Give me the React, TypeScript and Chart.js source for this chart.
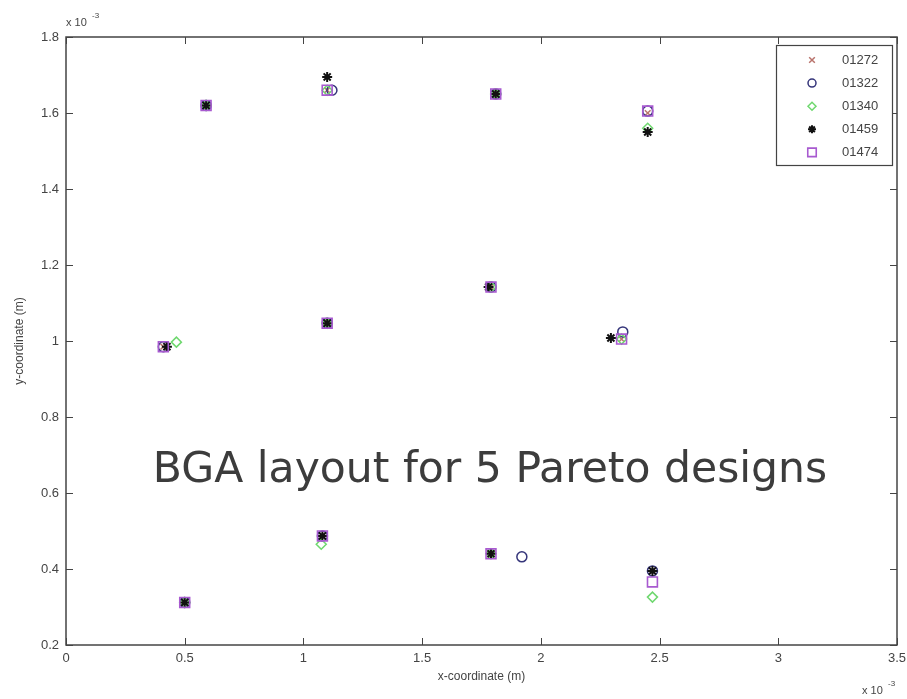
import React, { useEffect, useRef } from 'react';
import { Chart, registerables } from 'chart.js';
import { drawPoint } from 'chart.js/helpers';

Chart.register(...registerables);

// ---- data (coordinates in units of 1e-3 m) ----
const seriesNames = ['01272', '01322', '01340', '01459', '01474'];

const x01272 = [0.59, 1.10, 1.81, 2.45, 0.41, 1.10, 1.79, 2.34, 1.08, 0.50, 1.79, 2.47];
const y01272 = [1.62, 1.66, 1.65, 1.60, 0.985, 1.047, 1.142, 1.005, 0.487, 0.312, 0.44, 0.395];

const x01322 = [0.59, 1.12, 1.81, 2.45, 0.41, 1.10, 1.79, 2.345, 1.08, 0.50, 1.92, 2.47];
const y01322 = [1.62, 1.66, 1.65, 1.605, 0.985, 1.047, 1.142, 1.024, 0.487, 0.312, 0.432, 0.395];

const x01340 = [0.59, 1.10, 1.81, 2.45, 0.465, 1.10, 1.79, 2.34, 1.075, 0.50, 1.79, 2.47];
const y01340 = [1.62, 1.66, 1.65, 1.56, 0.997, 1.047, 1.142, 1.005, 0.465, 0.312, 0.44, 0.326];

const x01459 = [0.59, 1.10, 1.81, 2.45, 0.425, 1.10, 1.78, 2.295, 1.08, 0.50, 1.79, 2.47];
const y01459 = [1.62, 1.695, 1.65, 1.55, 0.985, 1.047, 1.142, 1.008, 0.487, 0.312, 0.44, 0.395];

const x01474 = [0.59, 1.10, 1.81, 2.45, 0.41, 1.10, 1.79, 2.34, 1.08, 0.50, 1.79, 2.47];
const y01474 = [1.62, 1.66, 1.65, 1.605, 0.985, 1.047, 1.142, 1.005, 0.487, 0.312, 0.44, 0.366];

const xTicks = [0, 0.5, 1, 1.5, 2, 2.5, 3, 3.5];
const yTicks = [0.2, 0.4, 0.6, 0.8, 1, 1.2, 1.4, 1.6, 1.8];

const xTitle = 'x-coordinate (m)';
const yTitle = 'y-coordinate (m)';
const exponentBase = 'x 10';
const exponentPower = '-3';
const caption = 'BGA layout for 5 Pareto designs';

// ---- styles ----
const markerStyles = [
  { pointStyle: 'crossRot', radius: 4, color: '#b9736c', width: 1.5 },
  { pointStyle: 'circle', radius: 5, color: '#35357a', width: 1.5 },
  { pointStyle: 'rectRot', radius: 5, color: '#6fd86f', width: 1.5 },
  { pointStyle: 'star', radius: 5, color: '#111111', width: 2 },
  { pointStyle: 'rect', radius: 7, color: '#a85ad0', width: 1.6 },
];

const xsAll = [x01272, x01322, x01340, x01459, x01474];
const ysAll = [y01272, y01322, y01340, y01459, y01474];

const FONT = '"Liberation Sans Narrow", "Liberation Sans", Arial, sans-serif';

const decorPlugin = {
  id: 'matlabDecor',
  beforeDatasetsDraw(chart: any) {
    const { ctx, chartArea: a, scales } = chart;
    ctx.save();
    ctx.strokeStyle = '#444';
    ctx.lineWidth = 1.5;
    ctx.strokeRect(a.left, a.top, a.right - a.left, a.bottom - a.top);
    ctx.lineWidth = 1;
    const tl = 7;
    ctx.beginPath();
    for (const v of xTicks) {
      const px = Math.round(scales.x.getPixelForValue(v)) + 0.5;
      ctx.moveTo(px, a.bottom); ctx.lineTo(px, a.bottom - tl);
      ctx.moveTo(px, a.top); ctx.lineTo(px, a.top + tl);
    }
    for (const v of yTicks) {
      const py = Math.round(scales.y.getPixelForValue(v)) + 0.5;
      ctx.moveTo(a.left, py); ctx.lineTo(a.left + tl, py);
      ctx.moveTo(a.right, py); ctx.lineTo(a.right - tl, py);
    }
    ctx.stroke();
    ctx.restore();
  },
  afterDraw(chart: any) {
    const { ctx, chartArea: a } = chart;
    ctx.save();
    // axis titles
    ctx.fillStyle = '#444';
    ctx.font = `12px ${FONT}`;
    ctx.textAlign = 'center';
    ctx.textBaseline = 'middle';
    ctx.fillText(xTitle, (a.left + a.right) / 2, 677);
    ctx.save();
    ctx.translate(20, (a.top + a.bottom) / 2);
    ctx.rotate(-Math.PI / 2);
    ctx.fillText(yTitle, 0, 0);
    ctx.restore();
    // exponent labels
    ctx.textAlign = 'left';
    ctx.textBaseline = 'alphabetic';
    ctx.font = `11px ${FONT}`;
    ctx.fillText(exponentBase, 66, 26);
    ctx.font = `8px ${FONT}`;
    ctx.fillText(exponentPower, 92, 18);
    ctx.font = `11px ${FONT}`;
    ctx.fillText(exponentBase, 862, 694);
    ctx.font = `8px ${FONT}`;
    ctx.fillText(exponentPower, 888, 686);

    // legend
    const lx = 776, ly = 45, lw = 116, lh = 120;
    ctx.fillStyle = '#ffffff';
    ctx.fillRect(lx, ly, lw, lh);
    ctx.strokeStyle = '#444';
    ctx.lineWidth = 1.2;
    ctx.strokeRect(lx + 0.5, ly + 0.5, lw, lh);
    ctx.font = `13px ${FONT}`;
    ctx.textBaseline = 'middle';
    seriesNames.forEach((name, i) => {
      const yy = 60 + i * 23.1;
      const m = markerStyles[i];
      ctx.save();
      ctx.strokeStyle = m.color;
      ctx.fillStyle = 'rgba(0,0,0,0)';
      ctx.lineWidth = m.width;
      drawPoint(ctx, { pointStyle: m.pointStyle, radius: m.pointStyle === 'rect' ? 6 : 4, rotation: 0, borderWidth: m.width } as any, 812, yy);
      ctx.restore();
      ctx.fillStyle = '#444';
      ctx.textAlign = 'left';
      ctx.fillText(name, 842, yy);
    });

    // caption
    ctx.fillStyle = '#3c3c3c';
    ctx.font = '42.5px "DejaVu Sans", Verdana, sans-serif';
    ctx.textAlign = 'center';
    ctx.textBaseline = 'alphabetic';
    ctx.fillText(caption, 490, 482);
    ctx.restore();
  },
};

export default function App() {
  const ref = useRef<HTMLCanvasElement>(null);
  useEffect(() => {
    document.body.style.margin = '0';
    const canvas = ref.current!;
    const datasets = seriesNames.map((name, i) => {
      const m = markerStyles[i];
      return {
        label: name,
        data: xsAll[i].map((x, j) => ({ x, y: ysAll[i][j] })),
        pointStyle: m.pointStyle,
        pointRadius: m.radius,
        pointBorderColor: m.color,
        pointBackgroundColor: 'rgba(0,0,0,0)',
        pointBorderWidth: m.width,
        showLine: false,
        order: seriesNames.length - 1 - i,
      };
    });
    const chart = new Chart(canvas, {
      type: 'scatter',
      data: { datasets } as any,
      options: {
        responsive: false,
        animation: false,
        events: [],
        layout: { padding: { top: 37, right: 10, left: 0, bottom: 0 } },
        plugins: { legend: { display: false }, tooltip: { enabled: false } },
        scales: {
          x: {
            type: 'linear',
            min: 0,
            max: 3.5,
            afterFit: (s: any) => { s.height = 54; s.paddingRight = 0; s.paddingLeft = 0; },
            afterBuildTicks: (s: any) => { s.ticks = xTicks.map((v) => ({ value: v })); },
            ticks: {
              autoSkip: false,
              maxRotation: 0,
              padding: 6,
              color: '#444',
              font: { family: FONT, size: 13 },
              callback: (v: any) => String(Number(Number(v).toFixed(1))),
            },
            grid: { drawOnChartArea: false, drawTicks: false },
            border: { display: false },
          },
          y: {
            type: 'linear',
            min: 0.2,
            max: 1.8,
            afterFit: (s: any) => { s.width = 66; s.paddingTop = 0; s.paddingBottom = 0; },
            afterBuildTicks: (s: any) => { s.ticks = yTicks.map((v) => ({ value: v })); },
            ticks: {
              autoSkip: false,
              padding: 7,
              color: '#444',
              font: { family: FONT, size: 13 },
              callback: (v: any) => String(Number(Number(v).toFixed(1))),
            },
            grid: { drawOnChartArea: false, drawTicks: false },
            border: { display: false },
          },
        },
      } as any,
      plugins: [decorPlugin],
    });
    return () => chart.destroy();
  }, []);
  return (
    <div style={{ width: 907, height: 699, background: '#fff' }}>
      <canvas ref={ref} width={907} height={699} />
    </div>
  );
}
